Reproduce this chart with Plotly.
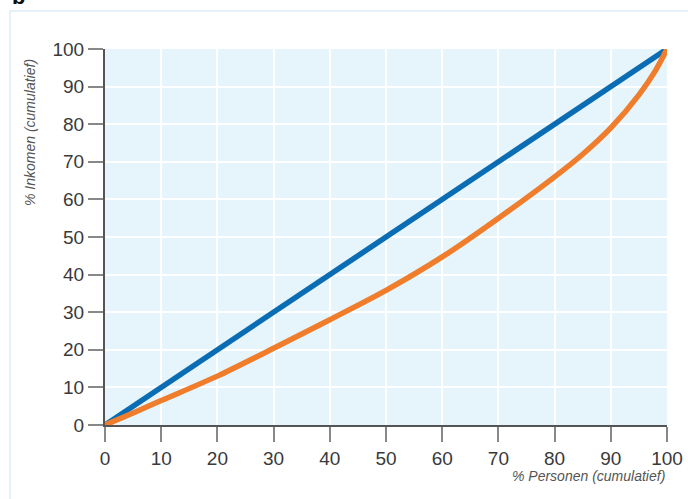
import plotly.graph_objects as go

x_equal = [0, 100]
y_equal = [0, 100]

x_lorenz = [0, 5, 10, 20, 30, 40, 50, 60, 70, 80, 85, 90, 95, 98, 100]
y_lorenz = [0, 3.2, 6.5, 13.0, 20.4, 28.0, 35.8, 44.7, 55, 66, 72, 79, 87.8, 94.4, 100]

ticks = list(range(0, 101, 10))
tick_text = [str(t) for t in ticks]

W, H = 688, 499
L, R, T, B = 105, 21, 49, 74
pw, ph = W - L - R, H - T - B

def px(xp):
    return (xp - L) / pw

def py(yp):
    return (H - B - yp) / ph

FONT = "Liberation Sans, Arial, sans-serif"

fig = go.Figure()
fig.add_trace(go.Scatter(x=x_equal, y=y_equal, mode="lines",
                         line=dict(color="#0a6db4", width=5.5), cliponaxis=False,
                         hoverinfo="skip"))
fig.add_trace(go.Scatter(x=x_lorenz, y=y_lorenz, mode="lines",
                         line=dict(color="#ef7d2b", width=5.5, shape="spline", smoothing=0.8),
                         cliponaxis=False, hoverinfo="skip"))

axis_common = dict(
    range=[0, 100], tickmode="array", tickvals=ticks, ticktext=tick_text,
    showgrid=True, gridcolor="white", gridwidth=2,
    showline=True, linecolor="#555555", linewidth=2,
    ticks="outside", ticklen=15, tickwidth=1.5, tickcolor="#888888",
    tickfont=dict(family=FONT, size=19, color="#3a3a3a"),
    zeroline=False, fixedrange=True, automargin=False,
)

fig.update_layout(
    width=W, height=H, autosize=False,
    margin=dict(l=L, r=R, t=T, b=B, autoexpand=False),
    paper_bgcolor="white", plot_bgcolor="#e6f4fc",
    showlegend=False,
    xaxis=dict(**axis_common),
    yaxis=dict(**axis_common),
    shapes=[
        dict(type="rect", xref="paper", yref="paper",
             x0=px(10), x1=px(700), y0=py(520), y1=py(11),
             line=dict(color="#dcedf8", width=1.5), fillcolor="rgba(0,0,0,0)", layer="below"),
    ],
    annotations=[
        dict(text="<i>% Personen (cumulatief)</i>", xref="paper", yref="paper",
             x=1.0, y=py(476), xanchor="right", yanchor="middle", showarrow=False,
             font=dict(family=FONT, size=14, color="#555555")),
        dict(text="<i>% Inkomen (cumulatief)</i>", xref="paper", yref="paper",
             x=px(30), y=py(133), xanchor="center", yanchor="middle", showarrow=False,
             textangle=-90,
             font=dict(family=FONT, size=14, color="#555555")),
        dict(text="<b>b</b>", xref="paper", yref="paper",
             x=px(10), y=py(11), xanchor="left", yanchor="bottom", showarrow=False,
             font=dict(family=FONT, size=22, color="#111111")),
    ],
)

fig.write_html("out.html",
               config={"responsive": False, "displayModeBar": False},
               post_script="document.body.style.margin='0';document.body.style.overflow='hidden';")
